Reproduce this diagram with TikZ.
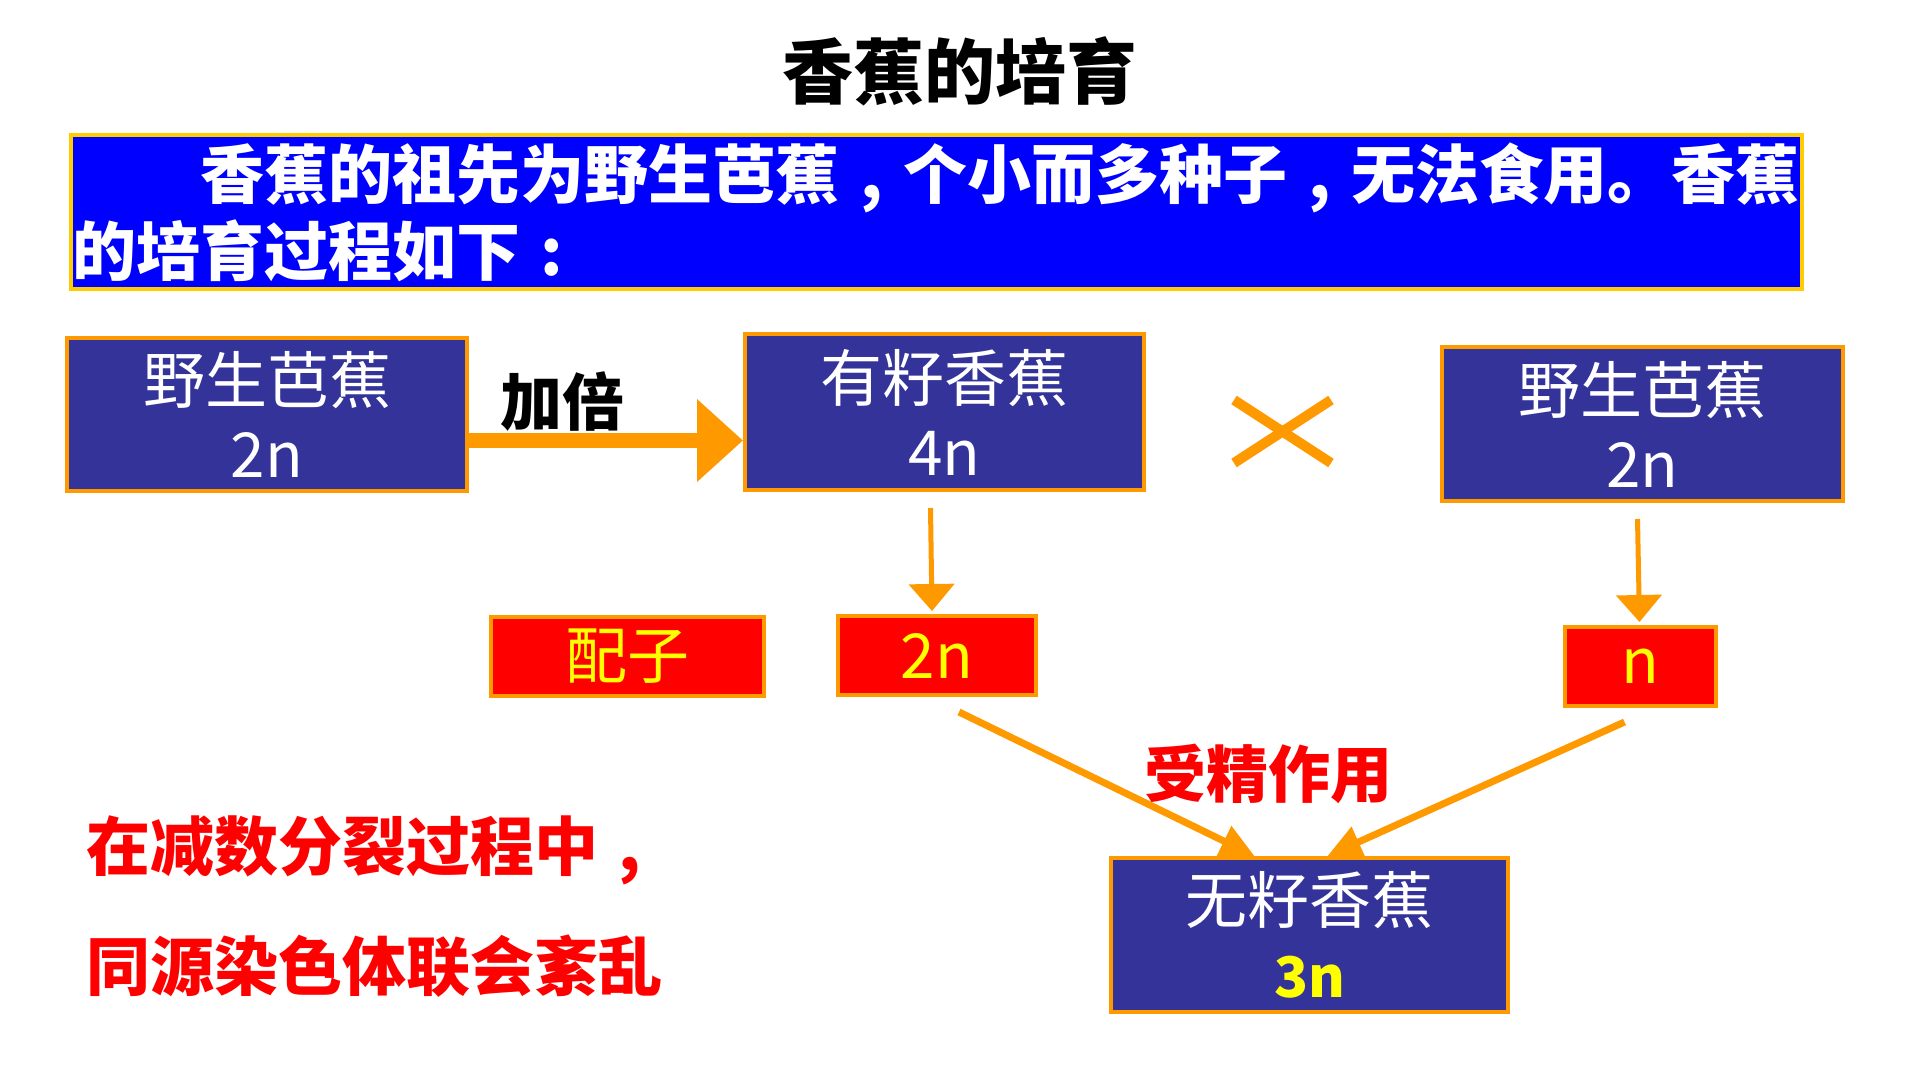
\documentclass[tikz,border=0pt]{standalone}
\usepackage{fontspec}
\setmainfont{Noto Sans CJK SC}
\usetikzlibrary{arrows.meta}
\definecolor{boxblue}{RGB}{51,51,153}
\definecolor{orng}{RGB}{255,153,0}
\definecolor{gold}{RGB}{255,204,0}
\definecolor{hdrblue}{RGB}{0,0,255}
\definecolor{ylw}{RGB}{255,255,0}
\definecolor{rd}{RGB}{255,0,0}
\newcommand\zcomma{\makebox[1em][c]{,}}
\newcommand\zcolon{\makebox[1em][c]{:}}
\begin{document}
\begin{tikzpicture}[x=1pt,y=-1pt,
  bluebox/.style={draw=orng, line width=4pt, fill=boxblue, text=white, align=center, inner sep=0pt, font=\fontsize{62}{74}\selectfont},
  redbox/.style={draw=orng, line width=4pt, fill=rd, text=ylw, inner sep=0pt, font=\fontsize{62}{74}\selectfont},
  thinarrow/.style={draw=orng, line width=5pt, -{Triangle[length=27pt,width=45pt]}},
  fatarrow/.style={draw=orng, line width=7pt, -{Triangle[length=34pt,width=32pt]}},
  bigarrow/.style={draw=orng, line width=15pt, -{Triangle[length=46pt,width=80pt]}},
  boldtext/.style={inner sep=0pt, font=\bfseries\fontsize{62}{74}\selectfont}
]
\useasboundingbox (0,0) rectangle (1920,1080);
\fill[white] (0,0) rectangle (1920,1080);

% title
\node[boldtext, font=\bfseries\fontsize{71}{80}\selectfont] (title) at (960,71) {香蕉的培育};

% header box
\node[draw=gold, line width=4pt, fill=hdrblue, text=white, inner xsep=1pt, inner ysep=0pt,
      minimum width=1731pt, minimum height=154pt, text width=1729pt, align=left,
      font=\bfseries\fontsize{64}{77}\selectfont] (hdr) at (936.5,212)
  {\hspace*{2em}香蕉的祖先为野生芭蕉\zcomma 个小而多种子\zcomma 无法食用。香蕉\\的培育过程如下\zcolon};

% main boxes
\node[bluebox, minimum width=400pt, minimum height=153pt] (A) at (267,414.5) {野生芭蕉\\2n};
\node[bluebox, minimum width=399pt, minimum height=156pt] (B) at (944.5,412) {有籽香蕉\\4n};
\node[bluebox, minimum width=401pt, minimum height=154pt] (C) at (1642.5,424) {野生芭蕉\\2n};
\node[bluebox, minimum width=397pt, minimum height=154pt] (D) at (1309.5,935)
  {无籽香蕉\\{\bfseries\color{ylw}\fontsize{56}{74}\selectfont 3n}};

% gamete boxes
\node[redbox, minimum width=273pt, minimum height=79pt] (gz) at (627.5,656.5) {配子};
\node[redbox, minimum width=198pt, minimum height=79pt] (g2) at (937,655.5) {2n};
\node[redbox, minimum width=151pt, minimum height=79pt] (gn) at (1640.5,666.5) {n};

% labels
\node[boldtext, text=black] (jb) at (562,402) {加倍};
\node[boldtext, text=rd] (sj) at (1268,774) {受精作用};
\node[boldtext, text=rd, anchor=west, align=left, font=\bfseries\fontsize{64}{120}\selectfont] (note) at (86,907)
  {在减数分裂过程中\zcomma\\同源染色体联会紊乱};

% cross sign
\draw[orng, line width=10pt] (1234,400) -- (1331,463);
\draw[orng, line width=10pt] (1234,463) -- (1331,400);

% connectors
\draw[bigarrow] ([yshift=-26pt]A.east) -- ([yshift=-26pt]A.east -| B.west);
\draw[thinarrow] ([xshift=-14pt,yshift=-16pt]B.south) -- ([xshift=-5pt,yshift=3pt]g2.north);
\draw[thinarrow] ([xshift=-5pt,yshift=-16pt]C.south) -- ([xshift=-1pt,yshift=3pt]gn.north);
\draw[fatarrow] ([xshift=22pt,yshift=-15pt]g2.south) -- ([xshift=-55pt]D.north);
\draw[fatarrow] ([xshift=-16pt,yshift=-14pt]gn.south) -- ([xshift=18pt]D.north);
\end{tikzpicture}
\end{document}
